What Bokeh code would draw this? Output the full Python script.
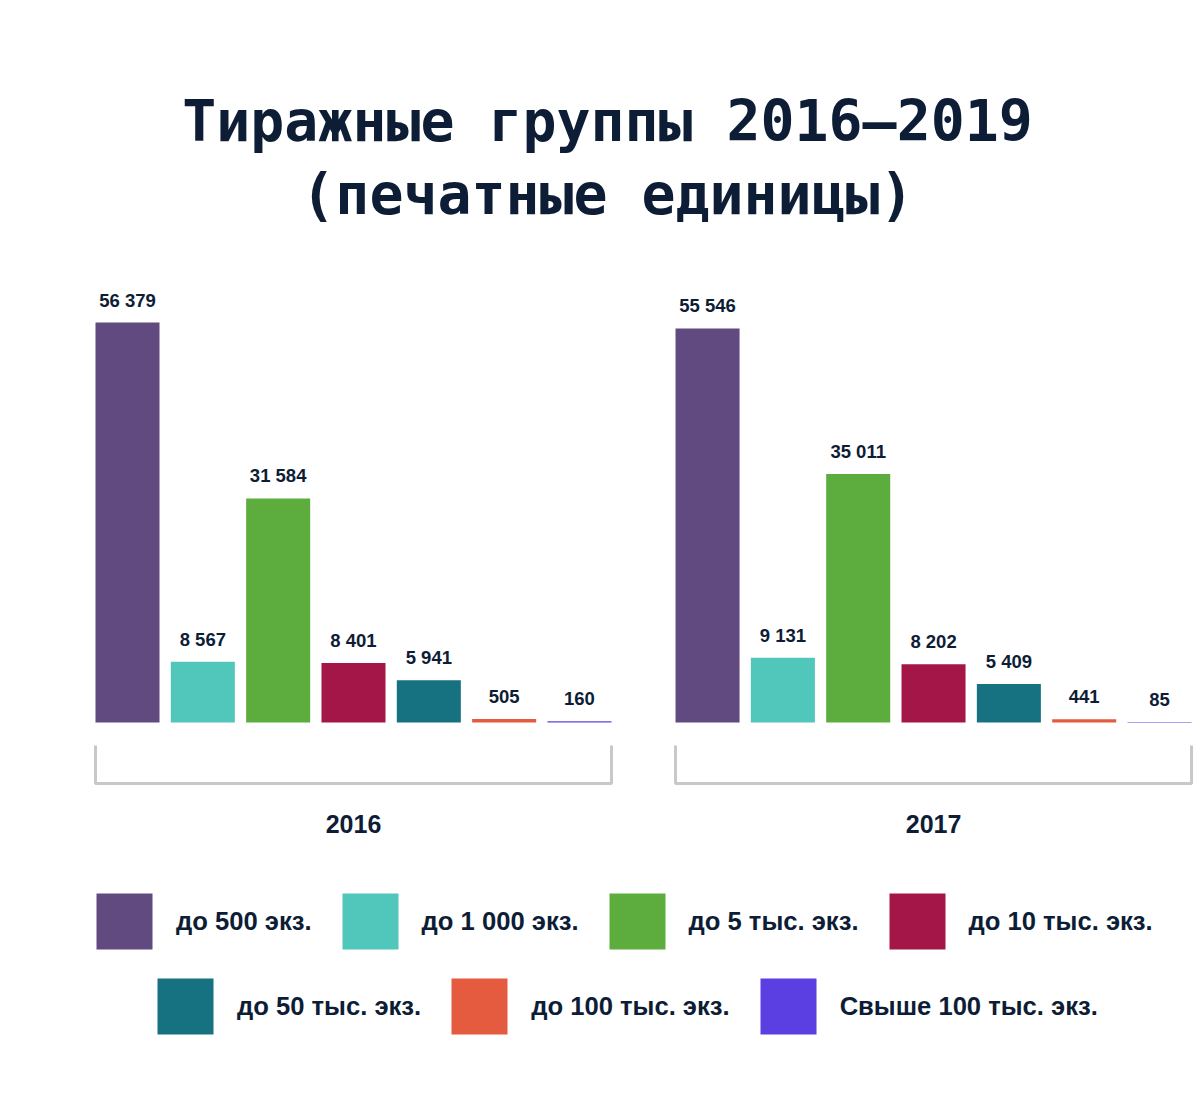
from bokeh.plotting import figure
from bokeh.models import Range1d, ColumnDataSource, LabelSet, Label, Legend, LegendItem
from bokeh.core.properties import value
from bokeh.embed import file_html
from bokeh.resources import INLINE

# ---------------- data ----------------
years = ["2016", "2017"]
groups = ["до 500 экз.", "до 1 000 экз.", "до 5 тыс. экз.", "до 10 тыс. экз.",
          "до 50 тыс. экз.", "до 100 тыс. экз.", "Свыше 100 тыс. экз."]
values_2016 = [56379, 8567, 31584, 8401, 5941, 505, 160]
values_2017 = [55546, 9131, 35011, 8202, 5409, 441, 85]
colors = ["#614a7f", "#51c6bb", "#5dac3e", "#a41647", "#167181", "#e45b3f", "#5c3fe3"]
title_lines = ["Тиражные группы 2016—2019", "(печатные единицы)"]

# ---------------- layout constants ----------------
W, H = 1200, 1100
SLOT_PX = 75.33          # px per bar slot
GROUP_GAP = 7.7          # slots between first bars of the two years
BAR_W = 0.85
U = 140.95               # value units per pixel
BASE_PX = 722            # baseline, px from top
NAVY = "#0e1d36"
SANS = "Liberation Sans"

x0 = -127 / SLOT_PX
p = figure(width=W, height=H, output_backend="svg", toolbar_location=None,
           x_range=Range1d(x0, x0 + W / SLOT_PX),
           y_range=Range1d(-(H - BASE_PX) * U, BASE_PX * U),
           min_border=0, min_border_left=0, min_border_right=0,
           min_border_top=0, min_border_bottom=0)
p.axis.visible = False
p.grid.visible = False
p.outline_line_color = None
p.background_fill_color = "white"
p.border_fill_color = "white"

series = [values_2016, values_2017]

renderers = []
for k, g in enumerate(groups):
    src = ColumnDataSource(dict(
        x=[yi * GROUP_GAP + k for yi in range(len(years))],
        top=[series[yi][k] for yi in range(len(years))],
    ))
    r = p.vbar(x="x", top="top", bottom=0, width=BAR_W, source=src,
               fill_color=colors[k], line_color=None)
    renderers.append(r)

# value labels
lab_x, lab_y, lab_t = [], [], []
for yi in range(len(years)):
    for k in range(len(groups)):
        v = series[yi][k]
        lab_x.append(yi * GROUP_GAP + k)
        lab_y.append(v)
        lab_t.append(f"{v:,}".replace(",", " "))
lab_src = ColumnDataSource(dict(x=lab_x, y=lab_y, t=lab_t))
p.add_layout(LabelSet(x="x", y="y", text="t", source=lab_src, y_offset=16,
                      text_align="center", text_baseline="alphabetic",
                      text_font=value(SANS), text_font_style="bold",
                      text_font_size="18.5px", text_color=NAVY))

# brackets
bxs, bys = [], []
for yi in range(len(years)):
    l = yi * GROUP_GAP - BAR_W / 2
    r_ = yi * GROUP_GAP + len(groups) - 1 + BAR_W / 2
    bxs.append([l, l, r_, r_])
    bys.append([-23 * U, -61 * U, -61 * U, -23 * U])
p.multi_line(xs=bxs, ys=bys, line_color="#c8c8c8", line_width=3)

# year labels
p.text(x=[yi * GROUP_GAP + (len(groups) - 1) / 2 for yi in range(len(years))],
       y=[-101 * U] * len(years), text=years,
       text_align="center", text_baseline="middle",
       text_font=value(SANS), text_font_style="bold",
       text_font_size="25px", text_color=NAVY)

# title
for line, base in zip(title_lines, [121, 194]):
    p.add_layout(Label(x=607, y=H - base, x_units="screen", y_units="screen",
                       text=line, text_align="center", text_baseline="alphabetic",
                       text_font="DejaVu Sans Mono", text_font_style="bold",
                       text_font_size="56.5px", text_color=NAVY))

# legends (bokeh insets area glyphs by 10% on each side: box 70 -> square 56)
INSET = 7
def make_legend(idx, left, bottom):
    leg = Legend(items=[LegendItem(label=groups[i], renderers=[renderers[i]]) for i in idx],
                 orientation="horizontal", location=(left - INSET, H - bottom - INSET),
                 glyph_width=70, glyph_height=70, label_standoff=24 - INSET,
                 spacing=30 - INSET,
                 padding=0, margin=0, border_line_alpha=0, background_fill_alpha=0,
                 label_text_font=SANS, label_text_font_style="bold",
                 label_text_font_size="25.6px", label_text_color=NAVY,
                 label_height=70)
    p.add_layout(leg)
    return leg

make_legend([0, 1, 2, 3], 96, 949)
make_legend([4, 5, 6], 157, 1034)

open("out.html", "w").write(file_html(p, INLINE))
